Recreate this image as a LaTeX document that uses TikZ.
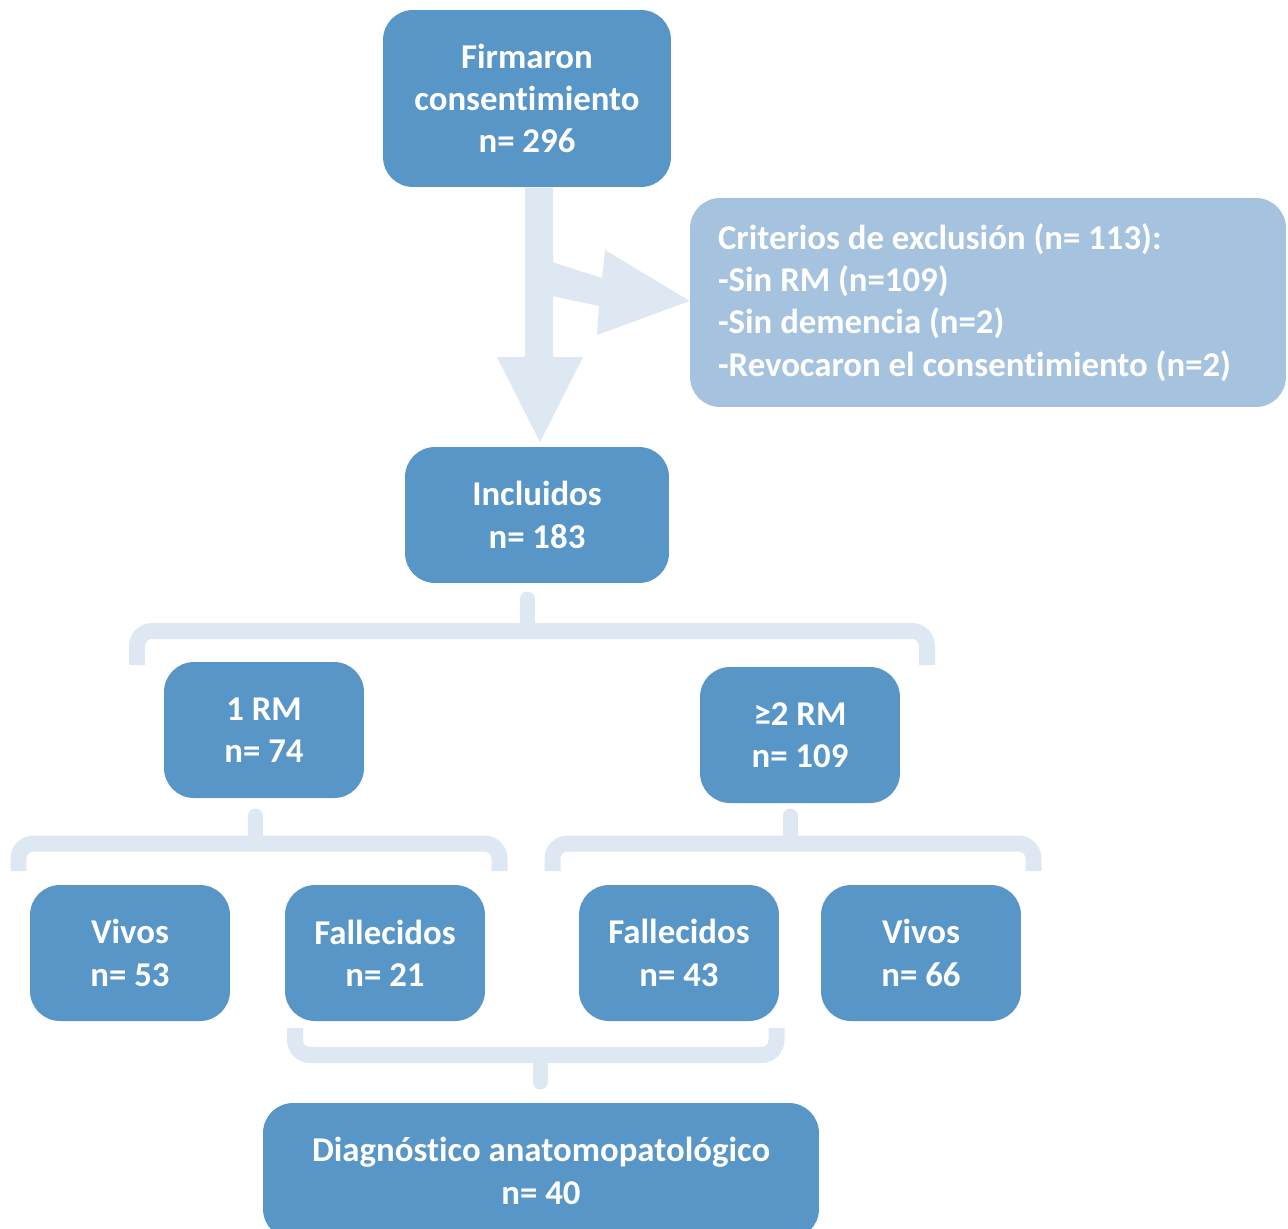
\documentclass[tikz,border=0pt]{standalone}
\usepackage{fontspec}
\setmainfont{Carlito}[Ligatures=NoCommon]
\definecolor{boxblue}{HTML}{5896C7}
\definecolor{critblue}{HTML}{A5C2DE}
\definecolor{paleblue}{HTML}{DEE8F3}

\tikzset{
  flowbox/.style={fill=boxblue, text=white, rounded corners=0.6cm, align=center,
    font=\bfseries\fontsize{19.8}{24.1}\selectfont, inner sep=0pt},
  smallbox/.style={flowbox, minimum width=4cm, minimum height=2.72cm},
  bracket/.style={draw=paleblue, line width=0.32cm, rounded corners=0.3cm},
  stem/.style={draw=paleblue, line width=0.3cm, line cap=round},
}

\begin{document}
\begin{tikzpicture}[x=0.02cm, y=-0.02cm]
        \useasboundingbox (0,0) rectangle (1288,1228);

        \node[flowbox, minimum width=5.76cm, minimum height=3.54cm] (firmaron) at (527,98.5) {Firmaron\\consentimiento\\n= 296};
        \node[flowbox, fill=critblue, align=flush left, inner xsep=0.56cm, text width=10.8cm, minimum height=4.18cm] (criterios) at (988,302.5)
            {Criterios de exclusión (n= 113):\\-Sin RM (n=109)\\-Sin demencia (n=2)\\-Revocaron el consentimiento (n=2)};
        \node[flowbox, minimum width=5.28cm, minimum height=2.72cm] (incluidos) at (537,515) {Incluidos\\n= 183};

        \node[smallbox] (rm1) at (264,730) {1 RM\\n= 74};
        \node[smallbox] (rm2) at (800,735) {≥2 RM\\n= 109};

        \node[smallbox] (vivos1) at (130,953) {Vivos\\n= 53};
        \node[smallbox] (fallec1) at (385,953) {Fallecidos\\n= 21};
        \node[smallbox] (fallec2) at (679,953) {Fallecidos\\n= 43};
        \node[smallbox] (vivos2) at (921,953) {Vivos\\n= 66};

        \node[flowbox, minimum width=11.12cm, minimum height=2.72cm] (diag) at (541,1171) {Diagnóstico anatomopatológico\\n= 40};

        % block arrows
        \fill[paleblue] (firmaron.south -| 525,0) -- (525,357) -- (497,357) -- (540,442)
            -- (583,357) -- (553,357) -- (firmaron.south -| 553,0) -- cycle;
        \fill[paleblue] (552,262) -- (602,278) -- (605,250) -- (criterios.west |- 0,301)
            -- (597,335) -- (599,306) -- (552,296) -- cycle;

        % brackets
        \coordinate (br1) at (527,631);
        \coordinate (br2) at (255,843.5);
        \coordinate (br3) at (790,843.5);
        \coordinate (br4) at (540,1055);

        \draw[bracket] (137,665) -- (137,631) -- (927,631) -- (927,665);
        \draw[stem] (527,599) -- (br1);

        \draw[bracket] (18.5,871) -- (18.5,843.5) -- (499.5,843.5) -- (499.5,871);
        \draw[stem] (255,816) -- (br2);

        \draw[bracket] (552.5,871) -- (552.5,843.5) -- (1033.5,843.5) -- (1033.5,871);
        \draw[stem] (790,816) -- (br3);

        \draw[bracket] (295,1028) -- (295,1055) -- (776.5,1055) -- (776.5,1028);
        \draw[stem] (br4) -- (540,1082);
\end{tikzpicture}
\end{document}
